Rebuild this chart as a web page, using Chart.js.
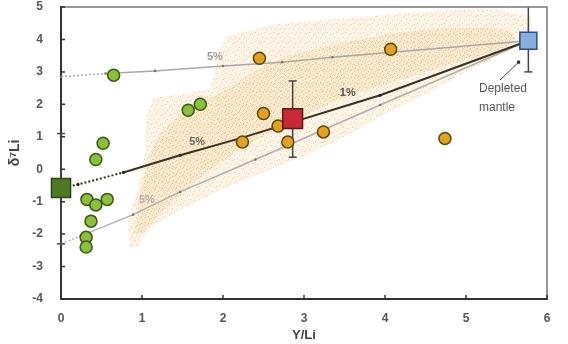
<!DOCTYPE html>
<html>
<head>
<meta charset="utf-8">
<script src="https://cdn.jsdelivr.net/npm/chart.js@4.4.0/dist/chart.umd.min.js"></script>
<style>
  html, body { margin: 0; padding: 0; background: #fff; }
  #wrap { width: 568px; height: 344px; }
</style>
</head>
<body>
<div id="wrap"><canvas id="myChart" width="568" height="344"></canvas></div>
<script>
// axis ticks
const xTicks = [0, 1, 2, 3, 4, 5, 6];
const yTicks = [-4, -3, -2, -1, 0, 1, 2, 3, 4, 5];

// green samples
const greenX = [0.65, 1.57, 1.72, 0.52, 0.43, 0.32, 0.57, 0.43, 0.37, 0.31, 0.31];
const greenY = [2.9, 1.82, 2.0, 0.8, 0.3, -0.93, -0.93, -1.1, -1.6, -2.1, -2.4];

// orange samples
const orangeX = [2.45, 2.50, 2.68, 2.24, 2.80, 3.24, 4.07, 4.74];
const orangeY = [3.42, 1.72, 1.33, 0.84, 0.84, 1.15, 3.7, 0.95];

// end members: green square, red square, depleted mantle
const endX = [0, 2.86, 5.77];
const endY = [-0.58, 1.56, 3.96];
const errLow = [-2.3, 0.37, 3.0];
const errHigh = [1.1, 2.72, 5.0];

// mixing lines
const mainX = [0, 0.21, 0.77, 1.47, 2.21, 3.94, 5.77];
const mainY = [-0.58, -0.47, -0.1, 0.43, 0.95, 2.28, 3.96];
const upperX = [0, 0.55, 1.16, 2.0, 2.73, 3.35, 5.77];
const upperY = [2.85, 2.95, 3.03, 3.18, 3.3, 3.45, 3.96];
const lowerX = [0, 0.3, 0.89, 1.47, 2.4, 3.94, 5.77];
const lowerY = [-2.3, -2.0, -1.4, -0.7, 0.3, 1.98, 3.96];

// field of model points (outline + denser core)
const cloudX = [0.85, 0.82, 0.95, 1.04, 1.05, 1.15, 1.5, 1.85, 1.95, 2.05, 2.6, 3.5, 4.5, 5.3, 5.8, 5.8, 5.5, 5.0, 4.5, 4.0, 3.5, 3.0, 2.5, 2.0, 1.5, 1.1, 0.95];
const cloudY = [-2.4, -1.5, -0.6, 0.5, 1.6, 2.2, 2.3, 2.5, 3.6, 4.1, 4.45, 4.65, 4.85, 4.95, 4.7, 4.1, 3.6, 3.0, 2.3, 1.7, 1.0, 0.4, -0.1, -0.6, -1.2, -1.8, -2.4];
const coreX = [0.9, 1.0, 1.2, 1.5, 2.0, 2.6, 3.5, 4.5, 5.5, 5.6, 4.5, 3.5, 2.8, 2.2, 1.7, 1.3, 1.0];
const coreY = [-2.0, -0.5, 1.0, 1.7, 2.4, 3.3, 3.9, 4.3, 4.3, 3.9, 3.0, 2.2, 1.4, 0.6, -0.3, -1.2, -2.0];

// text notes
const noteText = ['5%', '5%', '1%', '5%'];
const noteX = [1.9, 1.68, 3.54, 1.06];
const noteY = [3.46, 0.83, 2.35, -0.96];
const noteColor = ['#9a9a9a', '#6a6a6a', '#555', '#b0b0b0'];

const pts = (xs, ys) => xs.map((x, i) => ({x: x, y: ys[i]}));

const speckle = (size, bg, dot, spots) => {
  let c = document.createElement('canvas')
  c.width = size; c.height = size
  let g = c.getContext('2d')
  g.fillStyle = bg
  g.fillRect(0, 0, size, size)
  g.fillStyle = dot
  spots.forEach(s => g.fillRect(s[0], s[1], 1, 1))
  return g.createPattern(c, 'repeat')
}

const ctx = document.getElementById('myChart').getContext('2d');
const outerFill = speckle(9, 'rgba(250,234,208,0.5)', 'rgba(232,182,110,0.6)', [[1,1],[5,2],[3,5],[7,7],[0,6]]);
const innerFill = speckle(7, 'rgba(246,220,175,0.4)', 'rgba(226,170,90,0.55)', [[0,0],[4,1],[2,3],[5,5],[1,6]]);

const errorBar = (i, caps) => ({
  type: 'line',
  data: [{x: endX[i], y: errLow[i]}, {x: endX[i], y: errHigh[i]}],
  borderColor: '#444',
  borderWidth: 1.5,
  pointStyle: 'line',
  pointRadius: caps,
  pointBorderColor: '#444',
  pointBorderWidth: 1.5,
  order: 4
})

const dashedStart = n => ({
  borderDash: c => c.p1DataIndex <= n ? [2, 2] : undefined
})

const frame = {
  id: 'frame',
  afterDatasetsDraw(chart) {
    let c = chart.ctx
    let xs = chart.scales.x, ys = chart.scales.y
    c.save()
    c.font = 'bold 11px "Liberation Sans", Arial, sans-serif'
    c.textAlign = 'center'
    c.textBaseline = 'middle'
    noteText.forEach((t, i) => {
      c.fillStyle = noteColor[i]
      c.fillText(t, xs.getPixelForValue(noteX[i]), ys.getPixelForValue(noteY[i]))
    })
    // depleted mantle label
    c.fillStyle = '#555'
    c.textAlign = 'left'
    c.font = '12px "Liberation Sans", Arial, sans-serif'
    c.fillText('Depleted', xs.getPixelForValue(5.16), ys.getPixelForValue(2.47))
    c.fillText('mantle', xs.getPixelForValue(5.16), ys.getPixelForValue(1.91))
    c.strokeStyle = '#444'
    c.lineWidth = 1
    c.beginPath()
    c.moveTo(xs.getPixelForValue(5.42), ys.getPixelForValue(2.75))
    c.lineTo(xs.getPixelForValue(5.65), ys.getPixelForValue(3.3))
    c.stroke()
    c.fillStyle = '#222'
    c.fillRect(xs.getPixelForValue(5.65) - 1.5, ys.getPixelForValue(3.3) - 1.5, 3, 3)
    c.restore()
  },
  afterDraw(chart) {
    let c = chart.ctx
    let a = chart.chartArea
    let xs = chart.scales.x, ys = chart.scales.y
    c.save()
    c.strokeStyle = '#777'
    c.lineWidth = 1.5
    c.beginPath()
    c.moveTo(a.left, a.top)
    c.lineTo(a.right, a.top)
    c.lineTo(a.right, a.bottom)
    c.stroke()
    c.strokeStyle = '#333'
    c.lineWidth = 1.5
    c.beginPath()
    xTicks.forEach(v => {
      let px = xs.getPixelForValue(v)
      c.moveTo(px, a.bottom)
      c.lineTo(px, a.bottom - 4)
    })
    yTicks.forEach(v => {
      let py = ys.getPixelForValue(v)
      c.moveTo(a.left, py)
      c.lineTo(a.left + 4, py)
    })
    c.stroke()
    c.restore()
  }
}

var chart = new Chart(ctx, {
  type: 'scatter',
  data: {
    datasets: [
      {
        type: 'line',
        data: pts(cloudX, cloudY),
        fill: 'shape',
        backgroundColor: outerFill,
        borderWidth: 0,
        pointRadius: 0,
        order: 20
      },
      {
        type: 'line',
        data: pts(coreX, coreY),
        fill: 'shape',
        backgroundColor: innerFill,
        borderWidth: 0,
        pointRadius: 0,
        tension: 0.3,
        order: 19
      },
      {
        type: 'line',
        data: pts(upperX, upperY),
        borderColor: '#a8a8a8',
        borderWidth: 1.5,
        pointRadius: 1.3,
        pointBackgroundColor: '#777',
        pointBorderWidth: 0,
        segment: dashedStart(1),
        order: 6
      },
      {
        type: 'line',
        data: pts(lowerX, lowerY),
        borderColor: '#b0b0b0',
        borderWidth: 1.5,
        pointRadius: 1.3,
        pointBackgroundColor: '#777',
        pointBorderWidth: 0,
        segment: dashedStart(1),
        order: 6
      },
      {
        type: 'line',
        data: pts(mainX, mainY),
        borderColor: '#3b3122',
        borderWidth: 2,
        pointRadius: 1.6,
        pointBackgroundColor: '#222',
        pointBorderWidth: 0,
        segment: dashedStart(2),
        order: 5
      },
      errorBar(0, [4, 4]),
      errorBar(1, [4, 4]),
      errorBar(2, [4, 0]),
      {
        data: pts(greenX, greenY),
        pointRadius: 6,
        backgroundColor: '#8cbf3a',
        borderColor: '#3b5a14',
        borderWidth: 1.5,
        order: 3
      },
      {
        data: pts(orangeX, orangeY),
        pointRadius: 6,
        backgroundColor: '#e2a21f',
        borderColor: '#5c4511',
        borderWidth: 1.5,
        order: 2
      },
      {
        data: pts(endX, endY),
        pointStyle: 'rect',
        pointRadius: [13.5, 14, 12],
        backgroundColor: ['#4d7a22', '#c92a35', '#88aee0'],
        borderColor: ['#2b4410', '#5a1a1a', '#2e4f7a'],
        borderWidth: 1.5,
        order: 1
      }
    ]
  },
  options: {
    responsive: false,
    animation: false,
    clip: false,
    layout: { autoPadding: false, padding: { left: 0, top: 7, right: 21, bottom: 0 } },
    plugins: { legend: { display: false }, tooltip: { enabled: false } },
    scales: {
      x: {
        type: 'linear',
        min: 0,
        max: 6,
        afterFit: s => { s.height = 45; s.paddingLeft = 0; s.paddingRight = 0 },
        afterBuildTicks: s => { s.ticks = xTicks.map(v => ({value: v})) },
        grid: { drawOnChartArea: false, drawTicks: false },
        border: { color: '#333', width: 2 },
        ticks: { padding: 12, color: '#555', font: { family: '"Liberation Sans", Arial', size: 12, weight: 'bold' } },
        title: { display: true, text: 'Y/Li', color: '#444', padding: { top: 0, bottom: 1 }, font: { family: '"Liberation Sans", Arial', size: 13, weight: 'bold' } }
      },
      y: {
        type: 'linear',
        min: -4,
        max: 5,
        afterFit: s => { s.width = 61; s.paddingTop = 0; s.paddingBottom = 0 },
        afterBuildTicks: s => { s.ticks = yTicks.map(v => ({value: v})) },
        grid: { drawOnChartArea: false, drawTicks: false },
        border: { color: '#333', width: 2 },
        ticks: { padding: 18, color: '#555', font: { family: '"Liberation Sans", Arial', size: 12, weight: 'bold' } },
        title: { display: true, text: 'δ⁷Li', color: '#444', padding: { top: 7, bottom: 0 }, font: { family: '"Liberation Sans", Arial', size: 14, weight: 'bold' } }
      }
    }
  },
  plugins: [frame]
});
</script>
</body>
</html>
